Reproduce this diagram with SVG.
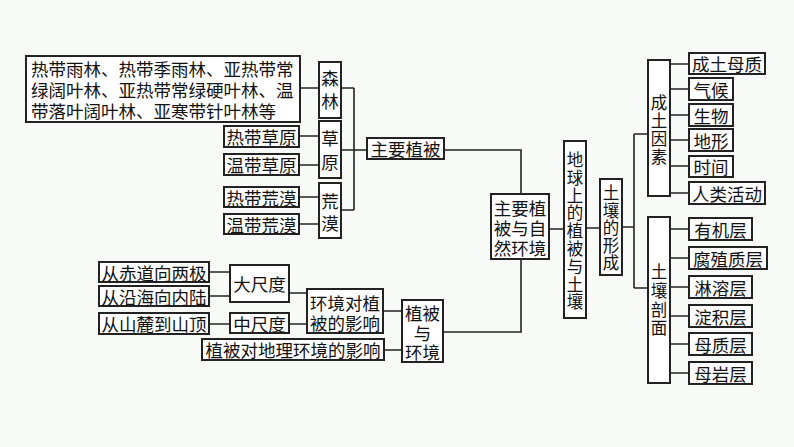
<svg xmlns="http://www.w3.org/2000/svg" width="794" height="447" viewBox="0 0 794 447">
<style>
.b{fill:#fff;stroke:#222;stroke-width:2}
.t{font-family:"Noto Sans CJK SC","Noto Sans",sans-serif;font-size:17.5px;fill:#111;text-anchor:middle;dominant-baseline:central}
.v{font-family:"Noto Sans CJK SC","Noto Sans",sans-serif;font-size:16.5px;fill:#111;text-anchor:middle;writing-mode:vertical-rl;text-orientation:upright}
.v2{font-family:"Noto Sans CJK SC","Noto Sans",sans-serif;font-size:17.5px;fill:#111;text-anchor:middle;writing-mode:vertical-rl;text-orientation:upright}
.l{font-family:"Noto Sans CJK SC","Noto Sans",sans-serif;font-size:17.5px;fill:#111;dominant-baseline:central}
#conn path{fill:none;stroke:#222;stroke-width:1.6}
</style>
<rect width="794" height="447" fill="#f8faf8"/>
<g id="conn">
<path d="M300 88H319M299 136H319M299 165H319M299 197H319M299 224H319"/>
<path d="M341 88H354M341 150H367M341 210H354M354 88V210"/>
<path d="M444 150H521V194M521 259V332H443"/>
<path d="M549 229H564M586 228H600M622 227H634M634 134V288M634 134H648M634 288H648"/>
<path d="M670 64H689M670 89H689M670 115H689M670 140H689M670 166H689M670 193H689"/>
<path d="M670 229H689M670 258H689M670 287H689M670 316H689M670 344H689M670 373H689"/>
<path d="M209 272H230M209 296H230M289 293H307M209 324H230M289 324H307M383 311H402M384 350H402"/>
</g>
<g id="n_forest_list"><rect class="b" x="26" y="56" width="274" height="66"/>
<text class="l"><tspan x="31" y="68">热带雨林、热带季雨林、亚热带常</tspan><tspan x="31" y="89">绿阔叶林、亚热带常绿硬叶林、温</tspan><tspan x="31" y="110">带落叶阔叶林、亚寒带针叶林等</tspan></text></g>
<g id="n_senlin"><rect class="b" x="319" y="62" width="22" height="56"/><text class="v2" x="330" y="92.5" letter-spacing="5">森林</text></g>
<g id="n_caoyuan"><rect class="b" x="319" y="121" width="22" height="57"/><text class="v2" x="330" y="153.5" letter-spacing="6.5">草原</text></g>
<g id="n_huangmo"><rect class="b" x="319" y="183" width="22" height="55"/><text class="v2" x="330" y="214.5" letter-spacing="4.5">荒漠</text></g>
<g id="n_rdcy"><rect class="b" x="224" y="126" width="75" height="21"/><text class="t" x="261.5" y="136.5">热带草原</text></g>
<g id="n_wdcy"><rect class="b" x="224" y="154" width="75" height="21"/><text class="t" x="261.5" y="164.5">温带草原</text></g>
<g id="n_rdhm"><rect class="b" x="224" y="187" width="75" height="20"/><text class="t" x="261.5" y="197">热带荒漠</text></g>
<g id="n_wdhm"><rect class="b" x="224" y="214" width="75" height="20"/><text class="t" x="261.5" y="224">温带荒漠</text></g>
<g id="n_zyzb"><rect class="b" x="367" y="138" width="77" height="21"/><text class="t" x="405.5" y="148.5">主要植被</text></g>
<g id="n_zyzbzr"><rect class="b" x="491" y="194" width="58" height="65"/><text class="t"><tspan x="520" y="207">主要植</tspan><tspan x="520" y="227">被与自</tspan><tspan x="520" y="247">然环境</tspan></text></g>
<g id="n_root"><rect class="b" x="564" y="141" width="22" height="177"/><text class="v" x="575" y="231.6" letter-spacing="1.3">地球上的植被与土壤</text></g>
<g id="n_trxc"><rect class="b" x="600" y="179" width="22" height="96"/><text class="v" x="611" y="228.5" letter-spacing="1">土壤的形成</text></g>
<g id="n_ctys"><rect class="b" x="648" y="60" width="22" height="136"/><text class="v" x="659" y="130.7" letter-spacing="1.4">成土因素</text></g>
<g id="n_trpm"><rect class="b" x="648" y="217" width="22" height="166"/><text class="v" x="659" y="301" letter-spacing="2.2">土壤剖面</text></g>
<g id="n_ctmz"><rect class="b" x="689" y="53" width="76" height="21"/><text class="t" x="727" y="63.5">成土母质</text></g>
<g id="n_qh"><rect class="b" x="689" y="78" width="44" height="22"/><text class="t" x="711" y="89">气候</text></g>
<g id="n_sw"><rect class="b" x="689" y="104" width="44" height="22"/><text class="t" x="711" y="115">生物</text></g>
<g id="n_dx"><rect class="b" x="689" y="129" width="44" height="22"/><text class="t" x="711" y="140">地形</text></g>
<g id="n_sj"><rect class="b" x="689" y="156" width="44" height="21"/><text class="t" x="711" y="166.5">时间</text></g>
<g id="n_rlhd"><rect class="b" x="689" y="182" width="76" height="22"/><text class="t" x="727" y="193">人类活动</text></g>
<g id="n_yjc"><rect class="b" x="689" y="218" width="63" height="22"/><text class="t" x="720.5" y="229">有机层</text></g>
<g id="n_fzzc"><rect class="b" x="689" y="247" width="78" height="22"/><text class="t" x="728" y="258">腐殖质层</text></g>
<g id="n_lrc"><rect class="b" x="689" y="276" width="63" height="22"/><text class="t" x="720.5" y="287">淋溶层</text></g>
<g id="n_djc"><rect class="b" x="689" y="305" width="63" height="22"/><text class="t" x="720.5" y="316">淀积层</text></g>
<g id="n_mzc"><rect class="b" x="689" y="333" width="63" height="22"/><text class="t" x="720.5" y="344">母质层</text></g>
<g id="n_myc"><rect class="b" x="689" y="362" width="63" height="22"/><text class="t" x="720.5" y="373">母岩层</text></g>
<g id="n_cdxlj"><rect class="b" x="99" y="262" width="110" height="20"/><text class="t" x="154" y="272">从赤道向两极</text></g>
<g id="n_cyhxnl"><rect class="b" x="99" y="286" width="110" height="20"/><text class="t" x="154" y="296">从沿海向内陆</text></g>
<g id="n_csldsd"><rect class="b" x="99" y="313" width="110" height="21"/><text class="t" x="154" y="323.5">从山麓到山顶</text></g>
<g id="n_dcd"><rect class="b" x="230" y="265" width="59" height="37"/><text class="t" x="259.5" y="283.5">大尺度</text></g>
<g id="n_zcd"><rect class="b" x="230" y="313" width="59" height="20"/><text class="t" x="259.5" y="323">中尺度</text></g>
<g id="n_hjdzb"><rect class="b" x="307" y="289" width="76" height="44"/><text class="t"><tspan x="345" y="302">环境对植</tspan><tspan x="345" y="322">被的影响</tspan></text></g>
<g id="n_zbdhj"><rect class="b" x="202" y="339" width="182" height="21"/><text class="t" x="293" y="349.5">植被对地理环境的影响</text></g>
<g id="n_zbyhj"><rect class="b" x="402" y="300" width="41" height="62"/><text class="t"><tspan x="422.5" y="312">植被</tspan><tspan x="422.5" y="332">与</tspan><tspan x="422.5" y="351">环境</tspan></text></g>
</svg>
